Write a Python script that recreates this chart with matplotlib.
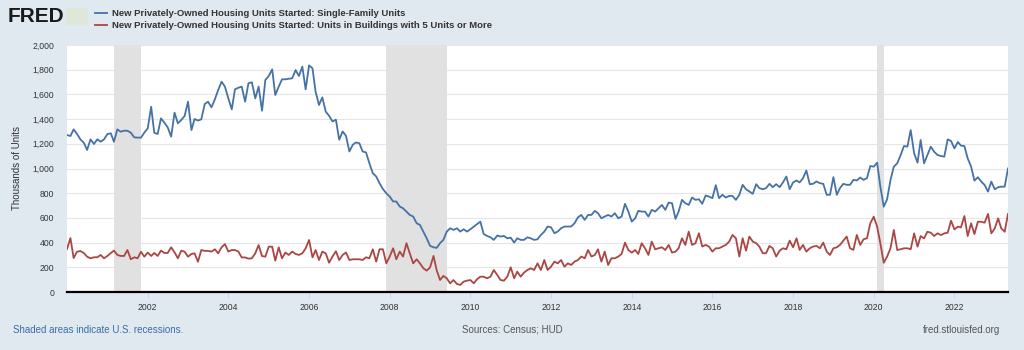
import matplotlib
matplotlib.use("Agg")
import matplotlib.pyplot as plt
import matplotlib.ticker as mticker
import matplotlib.dates as mdates
import pandas as pd

plt.rcParams['font.family'] = ['Liberation Sans', 'DejaVu Sans']

# monthly values, thousands of units (SAAR), Jan 2000 - May 2023
single_family = [
    1271, 1263, 1317, 1279, 1236, 1209, 1150, 1236, 1198, 1236, 1217, 1236,  # 2000
    1279, 1285, 1217, 1317, 1298, 1306, 1306, 1290, 1252, 1250, 1250, 1290,  # 2001
    1325, 1500, 1290, 1279, 1406, 1371, 1333, 1258, 1452, 1366, 1393, 1425,  # 2002
    1541, 1311, 1401, 1388, 1398, 1522, 1541, 1495, 1560, 1636, 1703, 1663,  # 2003
    1568, 1479, 1641, 1654, 1663, 1541, 1690, 1698, 1568, 1663, 1468, 1717,  # 2004
    1749, 1803, 1595, 1663, 1722, 1722, 1727, 1730, 1797, 1749, 1825, 1641,  # 2005
    1835, 1811, 1622, 1514, 1576, 1460, 1427, 1381, 1395, 1233, 1300, 1265,  # 2006
    1138, 1192, 1211, 1205, 1138, 1130, 1043, 962, 935, 881, 833, 800,       # 2007
    773, 733, 733, 692, 678, 651, 624, 611, 557, 543, 489, 435,              # 2008
    373, 362, 357, 395, 422, 489, 516, 503, 516, 489, 508, 489,              # 2009
    508, 530, 549, 570, 470, 454, 443, 422, 457, 449, 454, 435,              # 2010
    440, 400, 435, 422, 422, 443, 435, 422, 427, 462, 489, 530,              # 2011
    524, 476, 489, 516, 530, 530, 530, 557, 605, 624, 584, 624,              # 2012
    624, 657, 638, 597, 611, 624, 611, 638, 597, 611, 714, 651,              # 2013
    570, 597, 657, 651, 651, 611, 665, 651, 678, 705, 665, 724,              # 2014
    719, 592, 650, 746, 719, 705, 765, 746, 751, 714, 781, 773,              # 2015
    760, 865, 760, 787, 765, 778, 778, 746, 787, 868, 832, 814,              # 2016
    795, 873, 841, 832, 841, 876, 849, 873, 849, 887, 935, 832,              # 2017
    887, 903, 887, 922, 984, 873, 876, 895, 881, 876, 787, 787,              # 2018
    930, 787, 841, 876, 868, 868, 908, 903, 927, 908, 922, 1020,             # 2019
    1015, 1047, 853, 691, 750, 907, 1015, 1042, 1109, 1182, 1177, 1311,      # 2020
    1123, 1047, 1231, 1042, 1109, 1177, 1136, 1109, 1101, 1096, 1236, 1223,  # 2021
    1163, 1215, 1185, 1182, 1082, 1015, 902, 929, 894, 867, 813, 894,        # 2022
    832, 848, 853, 853, 1000,                                                # 2023
]

five_plus = [
    348, 437, 275, 326, 332, 316, 286, 273, 281, 281, 300, 273,  # 2000
    292, 316, 335, 300, 292, 292, 340, 265, 281, 273, 326, 286,  # 2001
    319, 292, 316, 292, 335, 316, 316, 362, 321, 273, 335, 326,  # 2002
    286, 308, 313, 245, 340, 333, 333, 327, 346, 313, 362, 388,  # 2003
    327, 340, 340, 327, 280, 280, 270, 273, 313, 380, 291, 286,  # 2004
    367, 367, 254, 362, 273, 319, 300, 327, 308, 300, 313, 354,  # 2005
    421, 280, 340, 259, 327, 313, 237, 287, 330, 259, 300, 320,  # 2006
    259, 265, 265, 265, 259, 281, 273, 346, 246, 346, 346, 232,  # 2007
    287, 354, 265, 327, 287, 395, 313, 232, 265, 232, 192, 173,  # 2008
    200, 292, 178, 97, 130, 111, 70, 97, 65, 57, 84, 92,         # 2009
    97, 70, 103, 124, 124, 111, 124, 178, 138, 97, 92, 124,      # 2010
    200, 111, 165, 124, 157, 178, 192, 178, 232, 178, 259, 178,  # 2011
    205, 246, 232, 259, 205, 232, 219, 246, 259, 287, 273, 340,  # 2012
    287, 300, 346, 246, 327, 219, 273, 273, 287, 308, 400, 340,  # 2013
    319, 340, 308, 395, 354, 300, 408, 346, 354, 362, 340, 381,  # 2014
    319, 327, 354, 435, 381, 489, 381, 395, 476, 368, 381, 368,  # 2015
    327, 354, 354, 368, 381, 408, 462, 435, 287, 435, 335, 449,  # 2016
    408, 395, 368, 314, 314, 373, 354, 287, 335, 354, 346, 416,  # 2017
    362, 435, 341, 381, 327, 354, 368, 373, 354, 400, 327, 300,  # 2018
    354, 362, 381, 416, 449, 354, 341, 462, 381, 427, 435, 556,  # 2019
    610, 529, 394, 237, 286, 354, 502, 340, 346, 354, 354, 346,  # 2020
    475, 367, 453, 434, 488, 480, 453, 475, 461, 475, 480, 577,  # 2021
    507, 529, 523, 615, 453, 556, 469, 569, 569, 561, 632, 475,  # 2022
    515, 596, 515, 488, 632,                                     # 2023
]

tick_years = ['2002', '2004', '2006', '2008', '2010', '2012', '2014', '2016', '2018', '2020', '2022']

recessions = [('2001-03-01', '2001-11-01'), ('2007-12-01', '2009-06-01'), ('2020-02-01', '2020-04-01')]

label_sf = 'New Privately-Owned Housing Units Started: Single-Family Units'
label_mf = 'New Privately-Owned Housing Units Started: Units in Buildings with 5 Units or More'

dates = pd.date_range('2000-01-01', periods=len(single_family), freq='MS')
df = pd.DataFrame({'sf': single_family, 'mf': five_plus[:len(single_family)]}, index=dates)

BG = '#e1e9f0'
fig = plt.figure(figsize=(10.24, 3.5), dpi=100, facecolor=BG)
ax = fig.add_axes([67/1024, 1 - 292/350, (1008 - 67)/1024, (292 - 45)/350])
ax.set_facecolor('white')

for a, b in recessions:
    ax.axvspan(pd.Timestamp(a), pd.Timestamp(b), color='#e1e1e1', lw=0, zorder=1)

ax.plot(df.index, df['sf'], color='#4572a7', lw=1.3, label=label_sf, zorder=3)
ax.plot(df.index, df['mf'], color='#aa4643', lw=1.3, label=label_mf, zorder=3)

ax.set_xlim(df.index[0], df.index[-1])
ax.set_ylim(0, 2000)
ax.yaxis.set_major_locator(mticker.MultipleLocator(200))
ax.yaxis.set_major_formatter(mticker.FuncFormatter(lambda v, p: f'{int(v):,}'))
ax.set_xticks([pd.Timestamp(f'{y}-01-01') for y in tick_years])
ax.set_xticklabels(tick_years)
ax.grid(axis='y', color='#e6e6e6', lw=0.8, zorder=0)
ax.set_axisbelow(True)

for s in ['top', 'right', 'left']:
    ax.spines[s].set_visible(False)
ax.spines['bottom'].set_color('black')
ax.spines['bottom'].set_linewidth(1.6)
ax.spines['bottom'].set_zorder(4)
ax.tick_params(axis='y', length=0, labelsize=6.2, labelcolor='#333333', pad=9)
ax.tick_params(axis='x', length=4, color='#ccd6eb', labelsize=6.2, labelcolor='#333333', pad=4)
ax.set_ylabel('Thousands of Units', fontsize=7, color='#333333', labelpad=8)

# header
fig.text(8/1024, 1 - 17/350, 'FRED', fontsize=15, fontweight='bold', color='#1a1a1a', va='center', ha='left')
icon = fig.add_axes([66/1024, 1 - 25/350, 22/1024, 17/350])
icon.set_facecolor('#dfe8d8')
icon.set_xticks([]); icon.set_yticks([])
for s in icon.spines.values():
    s.set_visible(False)

leg = ax.legend(loc='upper left', bbox_to_anchor=(95/1024, 1 - 9/350), bbox_transform=fig.transFigure,
                frameon=False, fontsize=6.8, handlelength=1.3, handletextpad=0.5, labelspacing=0.35,
                borderaxespad=0, borderpad=0)
for t in leg.get_texts():
    t.set_color('#333333')
    t.set_fontweight('bold')

# footer
fig.text(13/1024, 1 - 330/350, 'Shaded areas indicate U.S. recessions.', fontsize=7, color='#3a6ea5', va='center')
fig.text(512/1024, 1 - 330/350, 'Sources: Census; HUD', fontsize=7, color='#555555', va='center', ha='center')
fig.text(1000/1024, 1 - 330/350, 'fred.stlouisfed.org', fontsize=7, color='#555555', va='center', ha='right')

fig.savefig('out.png', dpi=100, facecolor=BG)
